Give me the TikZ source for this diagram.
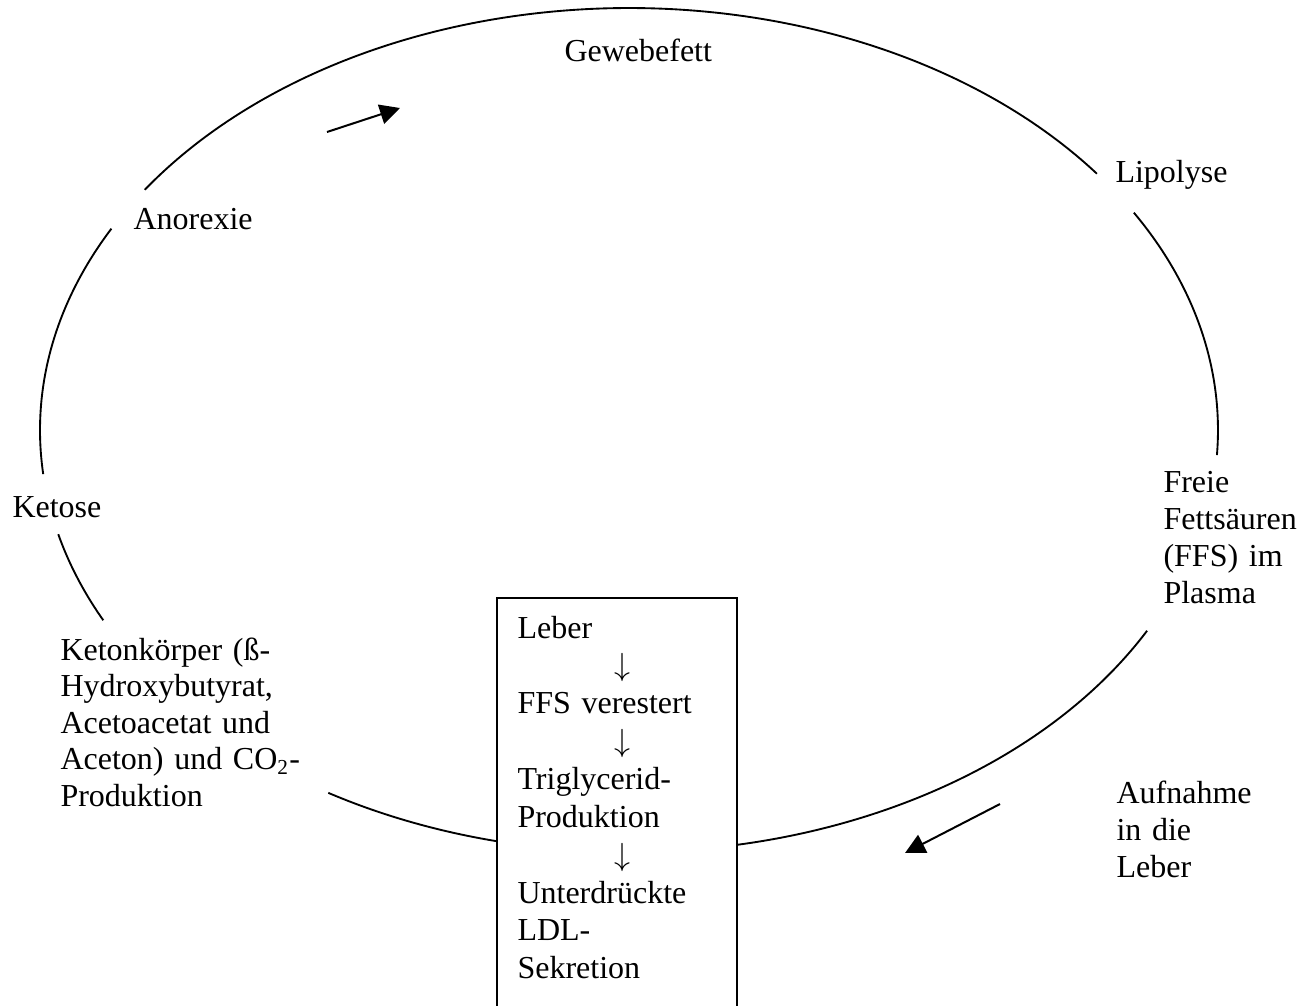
\documentclass[tikz,border=0pt]{standalone}
\usepackage{fontspec}
\setmainfont{Liberation Serif}
\usepackage{tikz}
\usetikzlibrary{calc,positioning,arrows.meta}

\newcommand{\dnarrow}{\hspace*{39.4pt}\makebox[0pt]{$\downarrow$}}

\begin{document}
\begin{tikzpicture}[x=0.375pt, y=-0.375pt,
    cycleline/.style={line width=0.7pt},
    flowarrow/.style={line width=0.75pt, -{Triangle[length=7.5pt, width=7.5pt]}},
    leberbox/.style={draw, line width=0.7pt, fill=white, outer sep=0pt,
      minimum width=90pt, minimum height=170pt, anchor=north west},
    lbl/.style={inner sep=0pt, anchor=base west,
      font=\fontsize{12pt}{13.8pt}\selectfont},
    block/.style={lbl, align=left, text width=#1}]
  \useasboundingbox (0,0) rectangle (1314,1005);
  \clip (0,0) rectangle (1314,1005);
  \coordinate (ctr) at (629,430);
  % the cycle, broken where the labels sit
  \foreach \from/\to in {-37.4/-145.3, -151.5/-186, -194.3/-206.8,
      -239.3/-331.6, 3.4/-31}
    \draw[cycleline] ($(ctr)+(\from:589 and 422)$)
      arc[start angle=\from, end angle=\to, x radius=589, y radius=422];

  \node[leberbox] (box) at (497,598) {};
  \node[block=80pt, font=\fontsize{12pt}{14.2pt}\selectfont] (leber) at (517,638)
    {Leber\\ \dnarrow\\ FFS verestert\\ \dnarrow\\ Triglycerid-\\ Produktion\\
     \dnarrow\\ Unterdrückte\\ LDL-\\ Sekretion};

  \node[lbl] (fett) at (564,61) {Gewebefett};
  \node[lbl] (lipo) at (1115,182) {Lipolyse};
  \node[block=60pt, font=\fontsize{12pt}{13.9pt}\selectfont] (ffs) at (1163,492)
    {Freie\\ Fettsäuren\\ (FFS) im\\ Plasma};
  \node[block=60pt, font=\fontsize{12pt}{13.9pt}\selectfont] (aufn) at (1116,803)
    {Aufnahme\\ in die\\ Leber};
  \node[block=95pt, font=\fontsize{12pt}{13.7pt}\selectfont] (keton) at (60,660)
    {Ketonkörper (ß-\\ Hydroxybutyrat,\\ Acetoacetat und\\
     Aceton) und CO\textsubscript{2}-\\ Produktion};
  \node[lbl] (ketose) at (12,517) {Ketose};
  \node[lbl] (anor) at (133,229) {Anorexie};

  \coordinate (up1) at (327,132);
  \coordinate (up2) at (400,108);
  \coordinate (dn1) at (1000,804);
  \coordinate (dn2) at (905,853);
  \draw[flowarrow] (up1) -- (up2);
  \draw[flowarrow] (dn1) -- (dn2);
\end{tikzpicture}
\end{document}
